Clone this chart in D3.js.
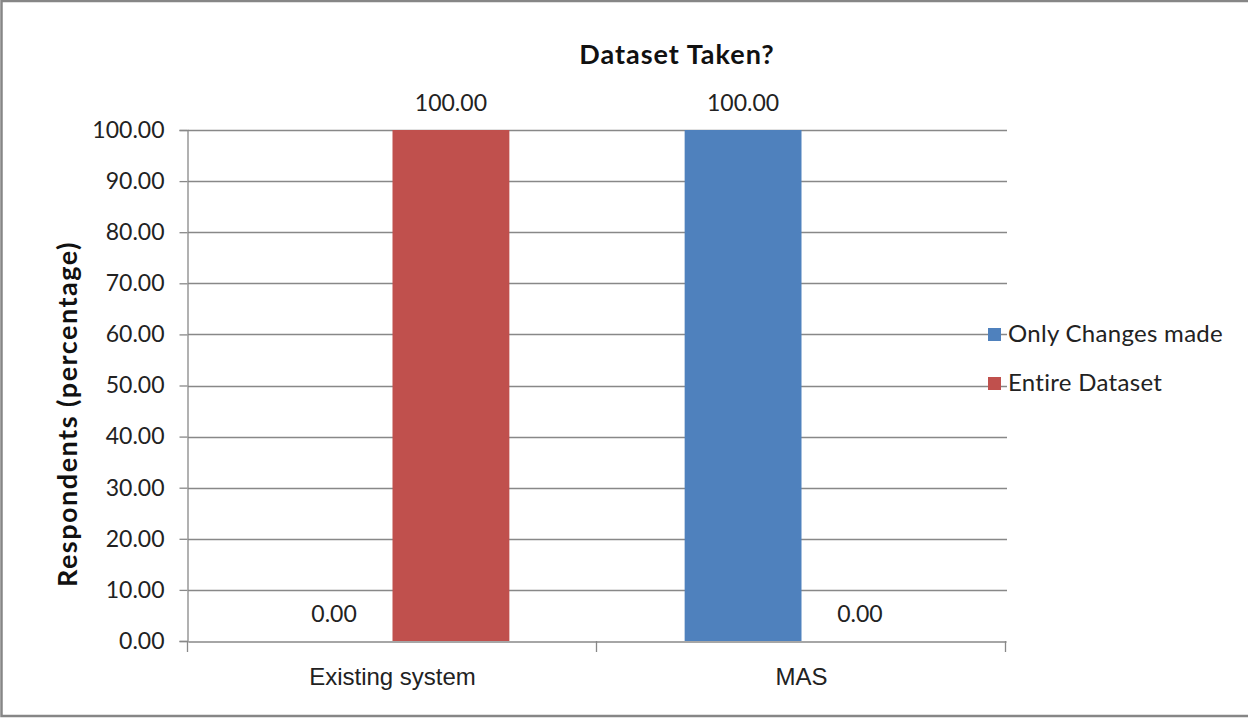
<!DOCTYPE html>
<html>
<head>
<meta charset="utf-8">
<script src="https://cdn.jsdelivr.net/npm/d3@7"></script>
<style>
  html, body { margin: 0; padding: 0; background: #fff; }
  svg { display: block; font-family: Lato, "Open Sans", sans-serif; }
</style>
</head>
<body>
<svg id="chart" width="1248" height="719"></svg>
<script>
const categories = ["Existing system", "MAS"];
const seriesNames = ["Only Changes made", "Entire Dataset"];
const onlyChanges = [0.00, 100.00];
const entireDataset = [100.00, 0.00];
const seriesColors = ["#4F81BD", "#C0504D"];
const yTicks = [0, 10, 20, 30, 40, 50, 60, 70, 80, 90, 100];

const svg = d3.select("#chart");
const W = 1248;

// outer frame
svg.append("rect").attr("x", 1.5).attr("y", 1).attr("width", W + 10).attr("height", 715)
  .attr("fill", "#fff").attr("stroke", "#868686").attr("stroke-width", 2.5);

const plot = { left: 188, right: 1006, top: 130, bottom: 641 };

const x0 = d3.scaleBand().domain(categories).range([plot.left, plot.right]).paddingInner(0).paddingOuter(0);
const x1 = d3.scaleBand().domain(seriesNames).range([0, x0.bandwidth()]).paddingOuter(0.75).paddingInner(0);
const y = d3.scaleLinear().domain([0, 100]).range([plot.bottom, plot.top]);

// gridlines
svg.append("g").selectAll("line").data(yTicks.filter(t => t > 0)).join("line")
  .attr("x1", plot.left).attr("x2", plot.right + 1)
  .attr("y1", d => Math.round(y(d)) + 0.5).attr("y2", d => Math.round(y(d)) + 0.5)
  .attr("stroke", "#888").attr("stroke-width", 1.3);

// y axis
const yAxis = d3.axisLeft(y).tickValues(yTicks).tickFormat(d3.format(".2f")).tickSizeOuter(0).tickSize(8).tickPadding(15);
const gy = svg.append("g").attr("transform", `translate(${plot.left - 0.5},0)`).call(yAxis);
gy.select(".domain").attr("stroke", "#888").attr("stroke-width", 1.3);
gy.selectAll(".tick line").attr("stroke", "#888").attr("stroke-width", 1.3);
gy.selectAll(".tick text").attr("font-size", 23).attr("fill", "#222").attr("font-family", "Lato, sans-serif");

// x axis
const xAxis = d3.axisBottom(x0).tickSize(0).tickPadding(22).tickSizeOuter(0);
const gx = svg.append("g").attr("transform", `translate(0,${plot.bottom + 0.5})`).call(xAxis);
gx.select(".domain").attr("stroke", "#888").attr("stroke-width", 1.3);
gx.selectAll(".tick text").attr("font-size", 24).attr("fill", "#222").attr("dy", "0.9em");
// category separator ticks
const boundaries = [plot.left, plot.left + x0.bandwidth(), plot.right];
svg.append("g").selectAll("line").data(boundaries).join("line")
  .attr("x1", d => Math.round(d) - 0.5).attr("x2", d => Math.round(d) - 0.5)
  .attr("y1", plot.bottom).attr("y2", plot.bottom + 11)
  .attr("stroke", "#888").attr("stroke-width", 1.3);

// bars
const rows = categories.map((c, i) => ({ cat: c, values: [onlyChanges[i], entireDataset[i]] }));
const groups = svg.append("g").selectAll("g").data(rows).join("g")
  .attr("transform", d => `translate(${x0(d.cat)},0)`);
groups.selectAll("rect").data(d => d.values.map((v, j) => ({ name: seriesNames[j], v, j }))).join("rect")
  .attr("x", d => x1(d.name)).attr("width", x1.bandwidth())
  .attr("y", d => y(d.v)).attr("height", d => y(0) - y(d.v))
  .attr("fill", d => seriesColors[d.j]);
groups.selectAll("text").data(d => d.values.map((v, j) => ({ name: seriesNames[j], v, j }))).join("text")
  .attr("x", d => x1(d.name) + x1.bandwidth() / 2)
  .attr("y", d => y(d.v) - 19)
  .attr("text-anchor", "middle").attr("font-size", 23).attr("fill", "#222")
  .text(d => d3.format(".2f")(d.v));

// title
svg.append("text").attr("x", 677).attr("y", 64).attr("text-anchor", "middle")
  .attr("font-size", 27).attr("font-weight", "bold").attr("letter-spacing", 1).attr("fill", "#111")
  .text("Dataset Taken?");

// y axis title
svg.append("text").attr("transform", "translate(77,414) rotate(-90)")
  .attr("text-anchor", "middle").attr("font-size", 27).attr("font-weight", "bold")
  .attr("letter-spacing", 1.5).attr("fill", "#111")
  .text("Respondents  (percentage)");

// legend
const legend = svg.append("g").selectAll("g").data(seriesNames).join("g")
  .attr("transform", (d, i) => `translate(988,${334 + i * 49})`);
legend.append("rect").attr("x", 0).attr("y", -6).attr("width", 13).attr("height", 13)
  .attr("fill", (d, i) => seriesColors[i]);
legend.append("text").attr("x", 20).attr("y", 0).attr("dy", "0.35em")
  .attr("font-size", 24).attr("letter-spacing", 0.3).attr("fill", "#222").text(d => d);
</script>
</body>
</html>
